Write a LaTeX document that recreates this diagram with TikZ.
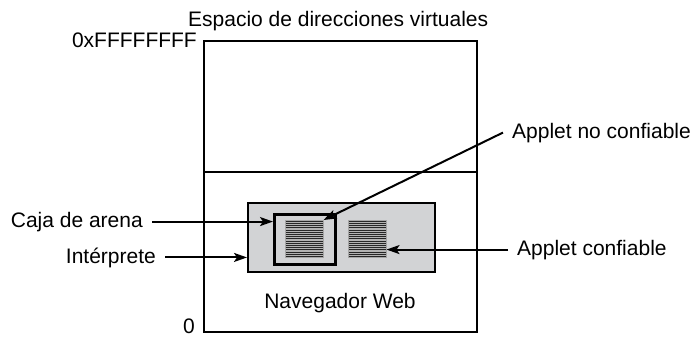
\documentclass[tikz,border=0pt]{standalone}
\usepackage{fontspec}
\setmainfont{Liberation Sans}
\usetikzlibrary{arrows.meta}
\definecolor{boxgray}{HTML}{D2D3D5}
\begin{document}
\begin{tikzpicture}[x=1pt,y=-1pt,
  font=\fontsize{21}{24}\selectfont,
  region/.style={draw, line width=1.8pt, inner sep=0pt, anchor=north west},
  lbl/.style={inner xsep=9pt, inner ysep=0pt},
  arr/.style={line width=2pt, -{Stealth[length=13pt,width=9pt,inset=3pt]}},
  hatchsq/.style={fill=gray!60, draw=gray!70, line width=0.5pt, inner sep=0pt, anchor=north west,
    minimum width=38pt, minimum height=37pt,
    path picture={\foreach \i in {0,...,16}{
      \draw[line width=0.8pt, black!85]
        ([yshift=-\i*2.2pt-1pt]path picture bounding box.north west) --
        ([yshift=-\i*2.2pt-1pt]path picture bounding box.north east);}}}
]
\path[use as bounding box] (0,0) rectangle (693,337);
% address space
\node[region, minimum width=273pt, minimum height=131pt] (upper) at (203,40) {};
\node[region, minimum width=273pt, minimum height=160pt] (lower) at (203,171) {};
\node[anchor=base west, inner sep=0pt] (title) at (188,27) {Espacio de direcciones virtuales};
\node[anchor=base east, inner sep=0pt] (top) at (197,48) {0xFFFFFFFF};
\node[anchor=base east, inner sep=0pt] (zero) at (195,333) {0};
% browser
\node[region, fill=boxgray, line width=2pt, minimum width=187pt, minimum height=69pt] (browser) at (247,202) {};
\node[anchor=base, inner sep=0pt] (navlbl) at (340,308) {Navegador Web};
\node[region, line width=2.6pt, minimum width=61pt, minimum height=50pt] (sandbox) at (273,213) {};
\node[hatchsq] (sq1) at (285,220) {};
\node[hatchsq] (sq2) at (348,220) {};
% labels
\node[lbl, anchor=base east] (cda) at (152,227) {Caja de arena};
\node[lbl, anchor=base east] (interp) at (165,263) {Intérprete};
\node[lbl, anchor=base west] (anc) at (503,138) {Applet no confiable};
\node[lbl, anchor=base west] (acf) at (508,255) {Applet confiable};
% arrows
\draw[arr] (cda.east) -- (cda.east -| sandbox.west);
\draw[arr] (interp.east) -- (interp.east -| browser.west);
\draw[arr] (anc.west) -- (sq1.north east);
\draw[arr] (acf.west) -- (acf.west -| sq2.east);
\end{tikzpicture}
\end{document}
